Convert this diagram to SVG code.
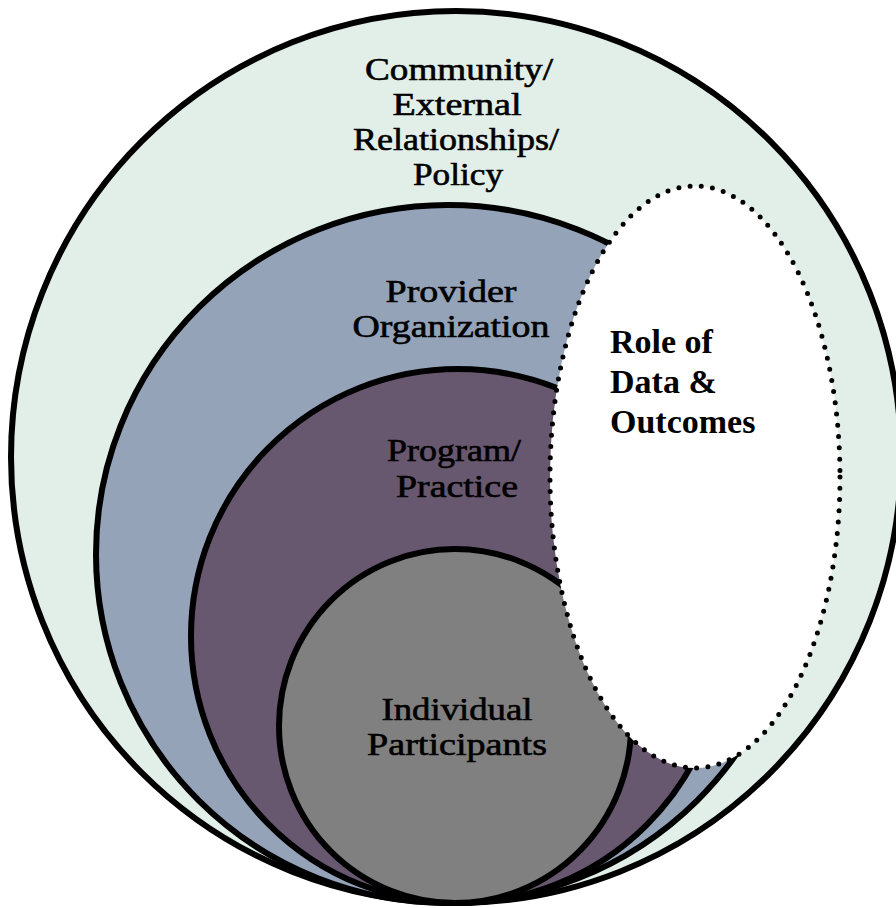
<svg xmlns="http://www.w3.org/2000/svg" width="896" height="908" viewBox="0 0 896 908">
<style>
.ring{stroke:#000;stroke-width:6}
.lbl{font-family:"Liberation Serif","Times New Roman",serif;font-size:31px;fill:#000;stroke:#000;stroke-width:0.6;text-anchor:middle}
.bold{font-family:"Liberation Serif","Times New Roman",serif;font-size:34px;font-weight:bold;fill:#000}
</style>
<rect width="896" height="908" fill="#fff"/>
<g id="community">
<ellipse class="ring" cx="456" cy="457" rx="445" ry="446" fill="#E2EEE8"/>
</g>
<g id="provider">
<ellipse class="ring" cx="448" cy="554" rx="352" ry="349" fill="#94A3B8"/>
</g>
<g id="program">
<ellipse class="ring" cx="458" cy="636" rx="267" ry="267" fill="#67576F"/>
</g>
<g id="individual">
<ellipse class="ring" cx="455" cy="726" rx="176" ry="177" fill="#808080"/>
</g>
<g id="data">
<ellipse cx="695" cy="477" rx="145" ry="291" fill="#fff" stroke="#000" stroke-width="5" stroke-dasharray="0 11.3" stroke-linecap="round"/>
</g>
<g id="labels">
<text class="lbl" x="459" y="80" textLength="188" lengthAdjust="spacingAndGlyphs">Community/</text>
<text class="lbl" x="457" y="115" textLength="129" lengthAdjust="spacingAndGlyphs">External</text>
<text class="lbl" x="456" y="150" textLength="206" lengthAdjust="spacingAndGlyphs">Relationships/</text>
<text class="lbl" x="458" y="185" textLength="90" lengthAdjust="spacingAndGlyphs">Policy</text>
<text class="lbl" x="451" y="302" textLength="131" lengthAdjust="spacingAndGlyphs">Provider</text>
<text class="lbl" x="451" y="337" textLength="197" lengthAdjust="spacingAndGlyphs">Organization</text>
<text class="lbl" x="454" y="461" textLength="134" lengthAdjust="spacingAndGlyphs">Program/</text>
<text class="lbl" x="457" y="497" textLength="122" lengthAdjust="spacingAndGlyphs">Practice</text>
<text class="lbl" x="457" y="720" textLength="151" lengthAdjust="spacingAndGlyphs">Individual</text>
<text class="lbl" x="457" y="755" textLength="180" lengthAdjust="spacingAndGlyphs">Participants</text>
<text class="bold" x="610" y="353">Role of</text>
<text class="bold" x="610" y="393">Data &amp;</text>
<text class="bold" x="610" y="433">Outcomes</text>
</g>
</svg>
